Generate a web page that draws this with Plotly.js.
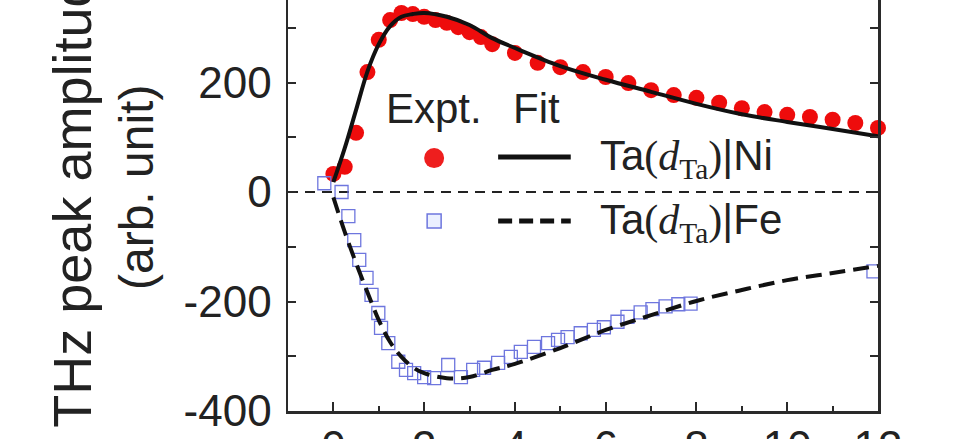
<!DOCTYPE html>
<html><head><meta charset="utf-8">
<script src="https://cdn.plot.ly/plotly-3.0.1.min.js"></script>
<style>
html,body{margin:0;padding:0;overflow:hidden;background:#fff;width:967px;height:439px;}
#chart{position:absolute;left:0;top:-27px;width:967px;height:500px;}
</style>
</head><body><div id="chart"></div>
<script>
// Ta(d_Ta)|Ni experimental
const niX = [0,0.25,0.5,0.75,1,1.25,1.5,1.75,2,2.25,2.5,2.75,3,3.25,3.5,4,4.5,5,5.5,6,6.5,7,7.5,8,8.5,9,9.5,10,10.5,11,11.5,12];
const niY = [33,46,108,219,278,314,327,325,320,314,309,301,292,283,270,254,236,228,219,210,199,186,177,172,163,153,146,141,137,132,126,117];
// Ta(d_Ta)|Ni fit
const niFitX = [0,0.25,0.5,0.75,1,1.25,1.5,1.75,2,2.5,3,3.5,4,5,6,7,8,9,10,11,12];
const niFitY = [18,80,150,220,270,303,320,325,327,320,305,281,263,230,205,183,161,142,128,115,102];
// Ta(d_Ta)|Fe experimental
const feX = [-0.2,0.18,0.33,0.46,0.57,0.73,0.84,0.99,1.05,1.21,1.43,1.6,1.78,2.0,2.22,2.53,2.81,3.08,3.32,3.63,3.91,4.13,4.42,4.73,4.95,5.16,5.45,5.74,5.96,6.26,6.48,6.77,7.03,7.32,7.6,7.87,11.9];
const feY = [16,0,-44,-88,-124,-157,-188,-221,-248,-276,-310,-325,-331,-338,-340,-316,-338,-325,-321,-312,-301,-292,-283,-276,-270,-265,-258,-252,-247,-237,-228,-220,-214,-209,-205,-204,-145];
// Ta(d_Ta)|Fe fit
const feFitX = [0,0.25,0.5,0.75,1,1.25,1.5,1.75,2,2.5,3,3.5,4,5,6,7,8,9,10,11,12];
const feFitY = [-10,-73,-130,-183,-234,-274,-301,-320,-331,-340,-338,-325,-314,-285,-252,-225,-199,-179,-161,-148,-135];

const xTickVals = [0,2,4,6,8,10,12];
const xTickText = ['0','2','4','6','8','10','12'];
const yTickVals = [-400,-300,-200,-100,0,100,200,300,400];
const yTickText = ['-400','','-200','','0','','200','','400'];

const FONT = 'Liberation Sans, Arial, sans-serif';
const SERIF = 'Liberation Serif, Times New Roman, serif';
const AX = '#2a2a2a';

const traces = [
  {x: niX, y: niY, type:'scatter', mode:'markers', cliponaxis:false,
   marker:{symbol:'circle', size:16, color:'rgb(238,12,12)', line:{width:0}}},
  {x: feX, y: feY, type:'scatter', mode:'markers', cliponaxis:false,
   marker:{symbol:'square-open', size:13, color:'rgb(110,118,222)', line:{width:1.3}}},
  {x: niFitX, y: niFitY, type:'scatter', mode:'lines',
   line:{shape:'spline', smoothing:1, color:'#111', width:4}},
  {x: feFitX, y: feFitY, type:'scatter', mode:'lines',
   line:{shape:'spline', smoothing:1, color:'#111', width:4, dash:'16px,8px'}}
];

const sub = (m) => 'Ta<span style="font-family:' + SERIF + '">(<i>d</i><sub>Ta</sub>)</span>|' + m;

const layout = {
  width:967, height:500,
  margin:{l:288, r:89, t:0, b:62},
  paper_bgcolor:'#fff', plot_bgcolor:'#fff',
  showlegend:false,
  font:{family:FONT, color:'#222'},
  xaxis:{range:[-1,12], tickvals:xTickVals, ticktext:xTickText,
    ticks:'inside', ticklen:9, tickwidth:2, tickcolor:AX,
    minor:{dtick:1, tick0:0, ticks:'inside', ticklen:5, tickwidth:2, tickcolor:AX},
    showline:true, linecolor:AX, linewidth:2.5, mirror:'ticks',
    showgrid:false, zeroline:false, ticklabelstandoff:-4,
    tickfont:{size:44, family:FONT, color:'#222'}},
  yaxis:{range:[-400,400], tickvals:yTickVals, ticktext:yTickText,
    ticks:'inside', ticklen:8, tickwidth:2, tickcolor:AX,
    showline:true, linecolor:AX, linewidth:2.5, mirror:'ticks',
    showgrid:false, zeroline:false, ticklabelstandoff:5,
    tickfont:{size:44, family:FONT, color:'#222'}},
  shapes:[
    {type:'line', xref:'paper', x0:0, x1:1, yref:'y', y0:0, y1:0, layer:'below',
     line:{color:'#222', width:2, dash:'10px,7px'}},
    // legend glyphs
    {type:'circle', xref:'x', yref:'y', xsizemode:'pixel', ysizemode:'pixel',
     xanchor:2.22, yanchor:62, x0:-10, x1:10, y0:-10, y1:10,
     fillcolor:'rgb(238,30,30)', line:{width:0}},
    {type:'line', xref:'x', yref:'y', x0:3.63, x1:5.23, y0:64, y1:64,
     line:{color:'#111', width:5}},
    {type:'rect', xref:'x', yref:'y', xsizemode:'pixel', ysizemode:'pixel',
     xanchor:2.22, yanchor:-53, x0:-7, x1:7, y0:-7, y1:7,
     fillcolor:'rgba(235,240,255,1)', line:{width:1.5, color:'rgb(110,118,222)'}},
    {type:'line', xref:'x', yref:'y', x0:3.63, x1:5.23, y0:-53, y1:-53,
     line:{color:'#111', width:5, dash:'14px,7px'}}
  ],
  annotations:[
    {xref:'paper', yref:'paper', x:-0.366, y:0.51, text:'THz peak amplitude', textangle:-90,
     showarrow:false, xanchor:'center', yanchor:'middle', font:{size:54, family:FONT, color:'#222'}},
    {xref:'paper', yref:'paper', x:-0.257, y:0.51, text:'(arb. unit)', textangle:-90,
     showarrow:false, xanchor:'center', yanchor:'middle', font:{size:48, family:FONT, color:'#222'}},
    {xref:'x', yref:'y', x:1.12, y:153, text:'Expt.', showarrow:false, xanchor:'left', yanchor:'middle',
     font:{size:42, family:FONT, color:'#222'}},
    {xref:'x', yref:'y', x:3.91, y:153, text:'Fit', showarrow:false, xanchor:'left', yanchor:'middle',
     font:{size:42, family:FONT, color:'#222'}},
    {xref:'x', yref:'y', x:5.82, y:62, text:sub('Ni'), showarrow:false, xanchor:'left', yanchor:'middle',
     font:{size:42, family:FONT, color:'#222'}},
    {xref:'x', yref:'y', x:5.82, y:-56, text:sub('Fe'), showarrow:false, xanchor:'left', yanchor:'middle',
     font:{size:42, family:FONT, color:'#222'}}
  ]
};

Plotly.newPlot('chart', traces, layout, {staticPlot:true, displayModeBar:false});
</script>
</body></html>
